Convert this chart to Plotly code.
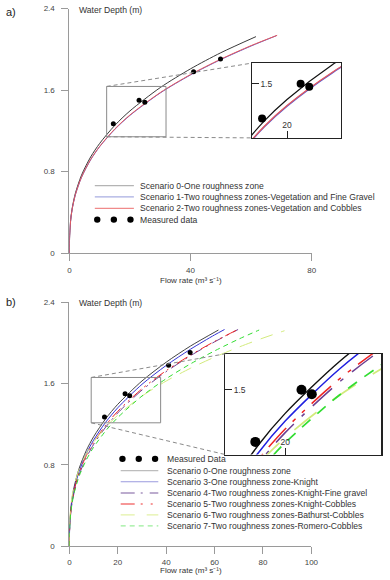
import plotly.graph_objects as go

W, H = 390, 580
FONT = "Liberation Sans, Arial, sans-serif"

# ---------------- data ----------------
meas_q = [14.5, 23.0, 24.9, 41.0, 49.9]
meas_h = [1.27, 1.50, 1.48, 1.78, 1.905]

# Scenario 0 (both panels)
s0_q = [0, 0.05, 0.2, 0.5, 1, 2, 4, 7, 10, 15, 20, 30, 40, 50, 61.6]
s0_h = [0, 0.149, 0.249, 0.351, 0.455, 0.590, 0.765, 0.943, 1.077, 1.254, 1.396, 1.625, 1.809, 1.967, 2.125]

# Panel a
s1_q = [0, 0.05, 0.2, 0.5, 1, 2, 4, 7, 10, 15, 20, 30, 40, 50, 60, 68.4]
s1_h = [0, 0.146, 0.244, 0.343, 0.444, 0.575, 0.743, 0.915, 1.045, 1.215, 1.352, 1.572, 1.749, 1.900, 2.033, 2.135]
s2_q = [0, 0.05, 0.2, 0.5, 1, 2, 4, 7, 10, 15, 20, 30, 40, 50, 60, 68.6]
s2_h = [0, 0.147, 0.245, 0.345, 0.446, 0.577, 0.746, 0.918, 1.048, 1.219, 1.356, 1.576, 1.753, 1.904, 2.037, 2.138]

# Panel b
s3_q = [0, 0.05, 0.2, 0.5, 1, 2, 4, 7, 10, 15, 20, 30, 40, 50, 60, 64.1]
s3_h = [0, 0.137, 0.233, 0.331, 0.432, 0.563, 0.735, 0.911, 1.044, 1.220, 1.362, 1.592, 1.777, 1.936, 2.077, 2.13]
s4_q = [0, 0.05, 0.2, 0.5, 1, 2, 4, 7, 10, 15, 20, 30, 40, 50, 60, 69.7]
s4_h = [0, 0.128, 0.219, 0.313, 0.409, 0.536, 0.702, 0.872, 1.001, 1.172, 1.311, 1.535, 1.716, 1.872, 2.009, 2.13]
s5_q = [0, 0.05, 0.2, 0.5, 1, 2, 4, 7, 10, 15, 20, 30, 40, 50, 60, 69.7]
s5_h = [0, 0.137, 0.232, 0.328, 0.427, 0.555, 0.721, 0.892, 1.021, 1.190, 1.327, 1.548, 1.726, 1.878, 2.013, 2.131]
s6_q = [0, 0.05, 0.2, 0.5, 1, 2, 4, 7, 10, 15, 20, 30, 40, 50, 60, 70, 80, 88.9]
s6_h = [0, 0.175, 0.278, 0.377, 0.475, 0.599, 0.754, 0.909, 1.023, 1.171, 1.289, 1.476, 1.624, 1.749, 1.859, 1.957, 2.046, 2.118]
s7_q = [0, 0.05, 0.2, 0.5, 1, 2, 4, 7, 10, 15, 20, 30, 40, 50, 60, 70, 78.4]
s7_h = [0, 0.131, 0.221, 0.313, 0.407, 0.529, 0.688, 0.850, 0.974, 1.135, 1.266, 1.477, 1.647, 1.792, 1.920, 2.036, 2.125]

legend_a = ["Scenario 0-One roughness zone",
            "Scenario 1-Two roughness zones-Vegetation and Fine Gravel",
            "Scenario 2-Two roughness zones-Vegetation and Cobbles",
            "Measured data"]
legend_b = ["Measured Data",
            "Scenario 0-One roughness zone",
            "Scenario 3-One roughness zone-Knight",
            "Scenario 4-Two roughness zones-Knight-Fine gravel",
            "Scenario 5-Two roughness zones-Knight-Cobbles",
            "Scenario 6-Two roughness zones-Bathurst-Cobbles",
            "Scenario 7-Two roughness zones-Romero-Cobbles"]

y_ticks = [0, 0.8, 1.6, 2.4]
y_ticktext = ["0", "0.8", "1.6", "2.4"]
xa_ticks = [0, 40, 80]
xb_ticks = [0, 20, 40, 60, 80, 100]

# --------------- layout helpers (pixels -> paper) ---------------
def PX(p):
    return p / W

def PY(p):
    return 1 - p / H

# axis geometry
A_X = dict(dom=[PX(69), PX(317)], rng=[0, 80])
A_Y = dict(dom=[PY(253), PY(4.7)], rng=[0, 2.4])
AI_X = dict(dom=[PX(256), PX(347)], rng=[12.3, 31.9])
AI_Y = dict(dom=[PY(136), PY(60)], rng=[1.142, 1.636])
B_X = dict(dom=[PX(69), PX(316.7)], rng=[0, 100])
B_Y = dict(dom=[PY(551), PY(302.7)], rng=[0, 2.4])
BI_X = dict(dom=[PX(228.7), PX(388.3)], rng=[9, 37.7])
BI_Y = dict(dom=[PY(457.7), PY(355.3)], rng=[1.214, 1.659])


def to_paper(ax, v):
    d, r = ax["dom"], ax["rng"]
    return d[0] + (v - r[0]) / (r[1] - r[0]) * (d[1] - d[0])


fig = go.Figure()

def line(q, h, xa, ya, color, width=1.0, dash="solid"):
    fig.add_trace(go.Scatter(x=q, y=h, xaxis=xa, yaxis=ya, mode="lines",
                             line=dict(color=color, width=width, dash=dash, shape="spline", smoothing=0.8),
                             hoverinfo="skip", showlegend=False))

def pts(xa, ya, size):
    fig.add_trace(go.Scatter(x=meas_q, y=meas_h, xaxis=xa, yaxis=ya, mode="markers",
                             marker=dict(color="black", size=size),
                             cliponaxis=True, hoverinfo="skip", showlegend=False))

# colors
C0 = "#3a3a3a"
C1A, C2A = "#5a5ad2", "#e85a5a"
C3, C4, C5, C6, C7 = "#3434d4", "#6b3f92", "#ee2424", "#d2ea7c", "#33dd33"

# Panel a main
line(s0_q, s0_h, "x", "y", C0)
line(s1_q, s1_h, "x", "y", C1A)
line(s2_q, s2_h, "x", "y", C2A)
pts("x", "y", 5)
# Panel a inset
line(s0_q, s0_h, "x2", "y2", "#111111", 1.2)
line(s1_q, s1_h, "x2", "y2", C1A, 1.5)
line(s2_q, s2_h, "x2", "y2", C2A, 1.2)
pts("x2", "y2", 8)

# Panel b main
D4, D5, D6, D7 = "12px,5px,2px,5px", "12px,4px,2px,4px,2px,4px", "13px,9px", "5px,4px"
line(s0_q, s0_h, "x3", "y3", "#444444")
line(s3_q, s3_h, "x3", "y3", C3)
line(s4_q, s4_h, "x3", "y3", C4, 1.0, D4)
line(s5_q, s5_h, "x3", "y3", C5, 1.0, D5)
line(s6_q, s6_h, "x3", "y3", C6, 1.0, D6)
line(s7_q, s7_h, "x3", "y3", C7, 1.0, D7)
pts("x3", "y3", 5)
# Panel b inset
line(s0_q, s0_h, "x4", "y4", "#111111", 1.4)
line(s3_q, s3_h, "x4", "y4", "#2020e0", 1.5)
line(s4_q, s4_h, "x4", "y4", C4, 1.5, "26px,11px,4px,11px")
line(s5_q, s5_h, "x4", "y4", C5, 1.5, "26px,9px,4px,9px,4px,9px")
line(s6_q, s6_h, "x4", "y4", C6, 1.7, "28px,20px")
line(s7_q, s7_h, "x4", "y4", C7, 1.7, "11px,9px")
pts("x4", "y4", 10)

axis_common = dict(showgrid=False, zeroline=False, showline=True, linecolor="#9a9a9a", linewidth=1,
                   ticks="outside", ticklen=7, tickcolor="#9a9a9a", tickwidth=1,
                   tickfont=dict(size=8, color="#444", family=FONT))
inset_common = dict(showgrid=False, zeroline=False, showline=True, mirror=True, linecolor="#222",
                    linewidth=1.2, ticks="inside", ticklen=7, tickcolor="#222", tickwidth=1,
                    ticklabelposition="inside", tickfont=dict(size=8.5, color="#333", family=FONT))

fig.update_layout(
    xaxis=dict(domain=A_X["dom"], range=A_X["rng"], tickvals=xa_ticks, anchor="y",
               ticklabelstandoff=2, **axis_common),
    yaxis=dict(domain=A_Y["dom"], range=A_Y["rng"], tickvals=y_ticks, ticktext=y_ticktext, anchor="x",
               ticklabelstandoff=5, **axis_common),
    xaxis2=dict(domain=AI_X["dom"], range=AI_X["rng"], tickvals=[20], anchor="y2", **inset_common),
    yaxis2=dict(domain=AI_Y["dom"], range=AI_Y["rng"], tickvals=[1.5], anchor="x2", **inset_common),
    xaxis3=dict(domain=B_X["dom"], range=B_X["rng"], tickvals=xb_ticks, anchor="y3",
                ticklabelstandoff=1, **axis_common),
    yaxis3=dict(domain=B_Y["dom"], range=B_Y["rng"], tickvals=y_ticks, ticktext=y_ticktext, anchor="x3",
                ticklabelstandoff=5, **axis_common),
    xaxis4=dict(domain=BI_X["dom"], range=BI_X["rng"], tickvals=[20], anchor="y4", **inset_common),
    yaxis4=dict(domain=BI_Y["dom"], range=BI_Y["rng"], tickvals=[1.5], anchor="x4", **inset_common),
)

shapes = []
annos = []

# zoom rectangles and connectors
def zoom_marks(xref, yref, MX, MY, IX, IY):
    x0, x1 = IX["rng"]
    y0, y1 = IY["rng"]
    shapes.append(dict(type="rect", xref=xref, yref=yref, x0=x0, x1=x1, y0=y0, y1=y1,
                       line=dict(color="#8a8a8a", width=1)))
    for yy, iy in ((y1, IY["dom"][1]), (y0, IY["dom"][0])):
        shapes.append(dict(type="line", xref="paper", yref="paper",
                           x0=to_paper(MX, x0), y0=to_paper(MY, yy),
                           x1=IX["dom"][0], y1=iy,
                           line=dict(color="#8a8a8a", width=1, dash="4px,3px")))

zoom_marks("x", "y", A_X, A_Y, AI_X, AI_Y)
zoom_marks("x3", "y3", B_X, B_Y, BI_X, BI_Y)

# legends (drawn manually)
def leg_line(x0, x1, y, color, dash="solid", width=1.2):
    shapes.append(dict(type="line", xref="paper", yref="paper", x0=PX(x0), x1=PX(x1), y0=PY(y), y1=PY(y),
                       line=dict(color=color, width=width, dash=dash)))

def leg_dots(xs, y, r=3.2):
    for x in xs:
        shapes.append(dict(type="circle", xref="paper", yref="paper", xsizemode="pixel", ysizemode="pixel",
                           xanchor=PX(x), yanchor=PY(y), x0=-r, x1=r, y0=-r, y1=r,
                           fillcolor="black", line=dict(width=0)))

def text(x, y, s, size=8.6, anchor="left", color="#333"):
    annos.append(dict(x=PX(x), y=PY(y), xref="paper", yref="paper", text=s, showarrow=False,
                      xanchor=anchor, yanchor="middle", font=dict(size=size, color=color, family=FONT)))

# legend a
rows_a = [184.5, 196, 207.5, 219]
leg_line(95, 135, rows_a[0], "#b4b4b4")
leg_line(95, 135, rows_a[1], "#a9aee2")
leg_line(95, 135, rows_a[2], "#f08a8a")
leg_dots([97.5, 114.5, 131.5], rows_a[3])
for y, s in zip(rows_a, legend_a):
    text(139.5, y, s)

# legend b
rows_b = [462, 474, 485.3, 496.7, 507.9, 519, 530.2]
leg_dots([123.3, 140, 156.7], rows_b[0])
leg_line(121.5, 160, rows_b[1], "#bdbdbd")
leg_line(121.5, 160, rows_b[2], "#9a9ade")
leg_line(121.5, 160, rows_b[3], "#7a5a9e", "14px,6px,2px,7px")
leg_line(121.5, 160, rows_b[4], "#ee3030", "14px,6px,2px,8px,2px,8px")
leg_line(121.5, 160, rows_b[5], "#e3f2a8", "14px,12px")
leg_line(121.5, 160, rows_b[6], "#9aee9a", "5px,4px")
for y, s in zip(rows_b, legend_b):
    text(166.5, y, s)

# panel labels & axis titles
text(2, 8, "a)", size=11, color="#222")
text(77, 6.5, "Water Depth (m)", size=8.6, color="#333")
text(193, 281, "Flow rate (m³ s⁻¹)", size=8, anchor="center")
text(2, 303, "b)", size=11, color="#222")
text(77, 303.5, "Water Depth (m)", size=8.6, color="#333")
text(193, 575.5, "Flow rate (m³ s⁻¹)", size=8, anchor="center")

fig.update_layout(width=W, height=H, margin=dict(l=0, r=0, t=0, b=0),
                  paper_bgcolor="white", plot_bgcolor="rgba(0,0,0,0)",
                  showlegend=False, shapes=shapes, annotations=annos,
                  font=dict(family=FONT))

fig.write_html("out.html", config={"displayModeBar": False, "staticPlot": True},
               post_script="document.body.style.margin='0';document.body.style.padding='0';"
                           "document.documentElement.style.overflow='hidden';")
